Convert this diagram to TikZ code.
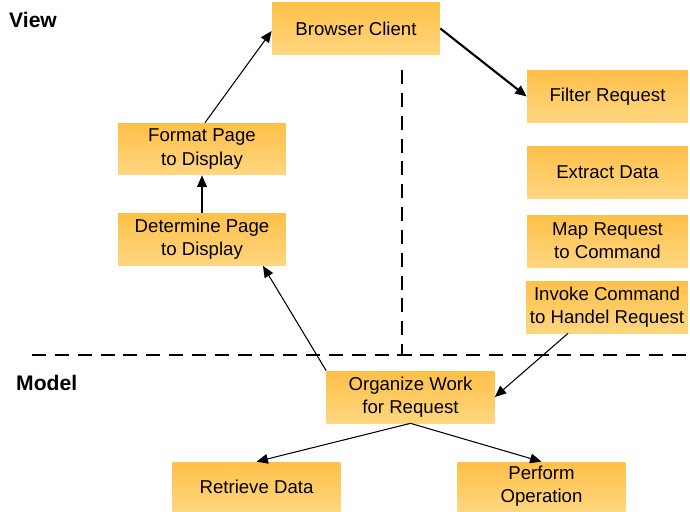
\documentclass[tikz,border=0pt]{standalone}
\usepackage{fontspec}
\setmainfont{Liberation Sans}
\usetikzlibrary{arrows.meta,positioning}

\definecolor{boxtop}{HTML}{FFC048}
\definecolor{boxbottom}{HTML}{FFD680}

\tikzset{
  task/.style={top color=boxtop, bottom color=boxbottom, draw=none,
    minimum width=3.36cm, minimum height=1.04cm, align=center,
    inner sep=2pt, font=\fontsize{10.6}{13.2}\selectfont},
  flow/.style={-{Triangle[length=6.5pt,width=5.5pt]}, line width=0.6pt},
  layer/.style={dash pattern=on 8pt off 5pt, line width=1.2pt},
  tag/.style={font=\bfseries\fontsize{12}{14}\selectfont, anchor=west}
}

\begin{document}
\begin{tikzpicture}[x=0.02cm, y=-0.02cm]
  \useasboundingbox (0,0) rectangle (690,511);

  \node[tag] (view) at (3,20) {View};
  \node[tag] (model) at (10,383) {Model};

  \node[task] (browser) at (356,28.5) {Browser Client};
  \node[task, minimum width=3.22cm] (filter) at (607.5,96.5) {Filter Request};
  \node[task, minimum width=3.22cm] (extract) at (607.5,172) {Extract Data};
  \node[task, minimum width=3.22cm] (mapreq) at (607.5,241) {Map Request\\to Command};
  \node[task, minimum width=3.24cm] (invoke) at (607,307) {Invoke Command\\to Handel Request};
  \node[task] (format) at (202,149) {Format Page\\to Display};
  \node[task] (determine) at (202,239.5) {Determine Page\\to Display};
  \node[task] (organize) at (410.5,397) {Organize Work\\for Request};
  \node[task, minimum height=0.98cm] (retrieve) at (256.5,486.5) {Retrieve Data};
  \node[task, minimum height=0.98cm] (perform) at (541.5,486.5) {Perform\\Operation};

  % layer separators
  \coordinate (sepleft) at (32,355);
  \coordinate (sepright) at (690,355);
  \coordinate (septop) at (402,70);
  \coordinate (sepmid) at (402,355);
  \draw[layer] (sepleft) -- (sepright);
  \draw[layer] (septop) -- (sepmid);

  \draw[flow, line width=1.2pt] (browser.east) -- (filter.west);
  \draw[flow] ([xshift=-0.78cm]invoke.south) -- (organize.east);
  \draw[flow] (organize.north west) -- ([xshift=1.22cm]determine.south);
  \draw[flow] (determine.north) -- (format.south);
  \draw[flow] ([xshift=0.06cm]format.north) -- ([yshift=-0.05cm]browser.west);
  \draw[flow] (organize.south) -- (retrieve.north);
  \draw[flow] (organize.south) -- (perform.north);
\end{tikzpicture}
\end{document}
